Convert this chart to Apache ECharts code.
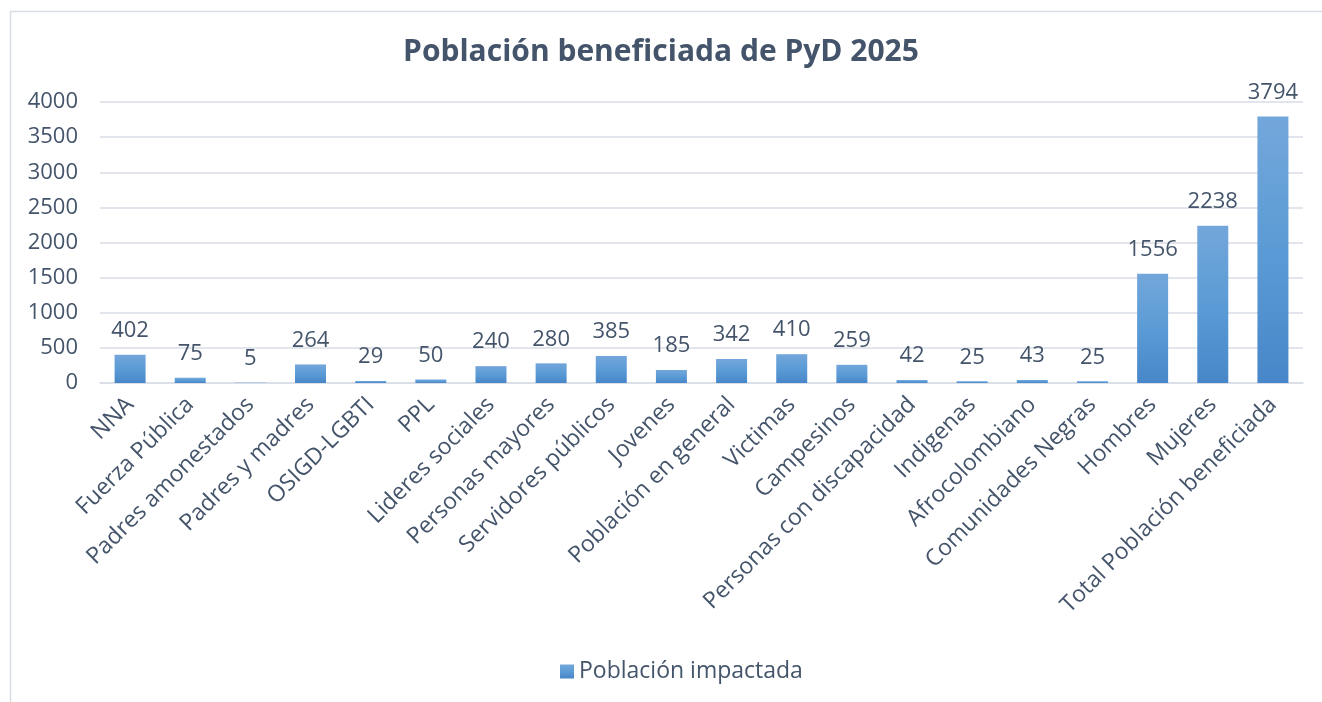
<!DOCTYPE html>
<html>
<head>
<meta charset="utf-8">
<script src="https://cdn.jsdelivr.net/npm/echarts@6/dist/echarts.min.js"></script>
<style>
  html, body { margin: 0; padding: 0; background: #fff; }
  #main { width: 1322px; height: 702px; }
</style>
</head>
<body>
<div id="main"></div>
<script>
  // categories and values
  const categories = [
    'NNA', 'Fuerza Pública', 'Padres amonestados', 'Padres y madres', 'OSIGD-LGBTI',
    'PPL', 'Lideres sociales', 'Personas mayores', 'Servidores públicos', 'Jovenes',
    'Población en general', 'Victimas', 'Campesinos', 'Personas con discapacidad',
    'Indigenas', 'Afrocolombiano', 'Comunidades Negras', 'Hombres', 'Mujeres',
    'Total Población beneficiada'
  ];
  const impacted = [402, 75, 5, 264, 29, 50, 240, 280, 385, 185, 342, 410, 259, 42, 25, 43, 25, 1556, 2238, 3794];

  const textColor = '#44546A';
  const font = '"Open Sans", "DejaVu Sans", sans-serif';

  const chart = echarts.init(document.getElementById('main'));

  const barColor = new echarts.graphic.LinearGradient(0, 0, 0, 1, [
    { offset: 0, color: '#73A7DB' },
    { offset: 0.5, color: '#5B9BD5' },
    { offset: 1, color: '#4787C9' }
  ]);

  chart.setOption({
    backgroundColor: '#fff',
    textStyle: { fontFamily: font, color: textColor },
    graphic: [{
      type: 'polyline',
      shape: { points: [[10.5, 702], [10.5, 11.5], [1322, 11.5]] },
      style: { stroke: '#D9DEE6', lineWidth: 1.5, fill: null },
      silent: true
    }],
    title: {
      text: 'Población beneficiada de PyD 2025',
      left: 'center',
      top: 32,
      textStyle: { fontFamily: font, fontSize: 30, fontWeight: 'bold', color: textColor }
    },
    legend: {
      top: 655,
      left: 555,
      itemWidth: 14,
      itemHeight: 14,
      itemGap: 6,
      icon: 'rect',
      textStyle: { fontFamily: font, fontSize: 23, color: textColor }
    },
    grid: { left: 100, right: 19, top: 102, bottom: 319 },
    xAxis: {
      type: 'category',
      data: categories,
      axisLine: { lineStyle: { color: '#D9DEE6', width: 1.5 } },
      axisTick: { show: false },
      axisLabel: {
        rotate: 45,
        interval: 0,
        margin: 18,
        fontFamily: font,
        fontSize: 23,
        color: textColor
      }
    },
    yAxis: {
      type: 'value',
      min: 0,
      max: 4000,
      interval: 500,
      axisLine: { show: false },
      axisTick: { show: false },
      splitLine: { lineStyle: { color: '#D9DEE6', width: 1.5 } },
      axisLabel: {
        margin: 22,
        fontFamily: font,
        fontSize: 22,
        color: textColor,
        formatter: v => String(v)
      }
    },
    series: [{
      name: 'Población impactada',
      type: 'bar',
      data: impacted,
      barWidth: 31,
      itemStyle: { color: barColor },
      label: {
        show: true,
        position: 'top',
        distance: 13,
        fontFamily: font,
        fontSize: 22,
        color: textColor
      }
    }]
  });
</script>
</body>
</html>
